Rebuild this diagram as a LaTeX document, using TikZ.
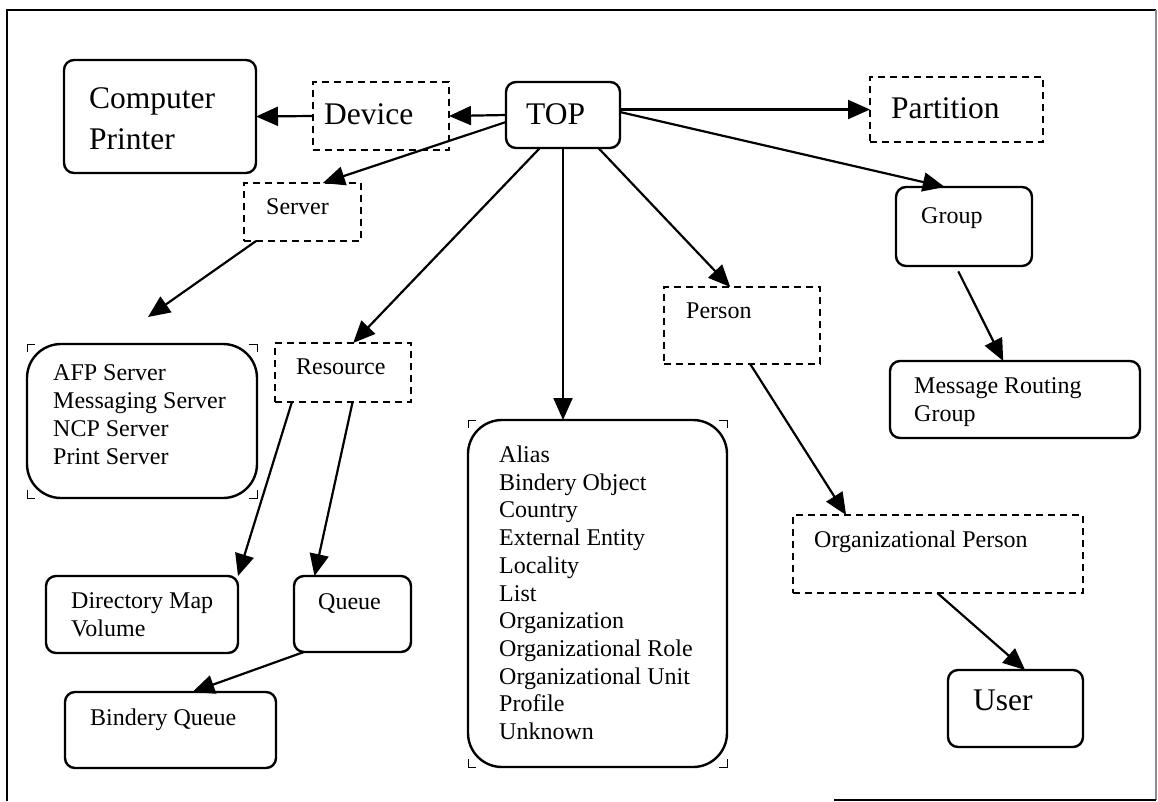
\documentclass[tikz,border=0pt]{standalone}
\usepackage{fontspec}
\setmainfont{Liberation Serif}
\usetikzlibrary{arrows.meta,calc}
\begin{document}
\begin{tikzpicture}[x=1pt,y=-1pt,
  solidbox/.style={draw, line width=2.4pt, rounded corners=10pt, inner sep=0pt, outer sep=0pt},
  bigbox/.style={solidbox, rounded corners=34pt},
  dashbox/.style={draw, line width=2.4pt, dash pattern=on 7pt off 5pt, inner sep=0pt, outer sep=0pt},
  small/.style={anchor=base west, inner sep=0pt, align=left, font=\fontsize{24}{27.7}\selectfont},
  large/.style={anchor=base west, inner sep=0pt, align=left, font=\fontsize{31.5}{41.5}\selectfont},
  link/.style={line width=2.2pt, -{Triangle[length=22pt,width=19pt]}},
  tick/.style={line width=1pt}
]
\useasboundingbox (0,0) rectangle (1158,801);

% outer frame
\draw[line width=2.2pt] (7,801) -- (7,10) -- (1156,10);
\draw[line width=1.2pt, black!45] (1156,10) -- (1156,800);
\draw[line width=1.5pt] (834,800) -- (1156,800);

% boxes
\node[solidbox, minimum width=192pt, minimum height=113pt] (cp) at (160,116.5) {};
\node[dashbox, minimum width=136pt, minimum height=68pt] (dev) at (381,116) {};
\node[solidbox, minimum width=114pt, minimum height=66pt] (top) at (563,115) {};
\node[dashbox, minimum width=173pt, minimum height=65pt] (part) at (956.5,109.5) {};
\node[dashbox, minimum width=117pt, minimum height=58pt] (srv) at (302.5,212) {};
\node[bigbox, minimum width=230pt, minimum height=154pt] (afp) at (142,421) {};
\node[dashbox, minimum width=136pt, minimum height=59pt] (res) at (343,372.5) {};
\node[bigbox, minimum width=259pt, minimum height=347pt] (alias) at (597.5,593.5) {};
\node[dashbox, minimum width=156pt, minimum height=77pt] (per) at (742,325.5) {};
\node[solidbox, minimum width=136pt, minimum height=79pt] (grp) at (964,226.5) {};
\node[solidbox, minimum width=250pt, minimum height=77pt] (mrg) at (1015,399.5) {};
\node[dashbox, minimum width=290pt, minimum height=78pt] (op) at (938,554) {};
\node[solidbox, minimum width=135pt, minimum height=77pt] (user) at (1015.5,708.5) {};
\node[solidbox, minimum width=192pt, minimum height=77pt] (dm) at (142,614.5) {};
\node[solidbox, minimum width=117pt, minimum height=76pt] (q) at (352.5,614) {};
\node[solidbox, minimum width=211pt, minimum height=76pt] (bq) at (170.5,730) {};

% corner marks of the two list boxes
\foreach \n in {afp,alias} {
  \draw[tick] ($(\n.north west)+(0,8)$) -- (\n.north west) -- ($(\n.north west)+(8,0)$);
  \draw[tick] ($(\n.north east)+(0,8)$) -- (\n.north east) -- ($(\n.north east)+(-8,0)$);
  \draw[tick] ($(\n.south west)+(0,-8)$) -- (\n.south west) -- ($(\n.south west)+(8,0)$);
  \draw[tick] ($(\n.south east)+(0,-8)$) -- (\n.south east) -- ($(\n.south east)+(-8,0)$);
}

% labels (multi-line labels are anchored on the baseline of their last line)
\node[large] (cpt) at (89,149.5) {Computer\\Printer};
\node[large] (devt) at (324,124) {Device};
\node[large] (topt) at (526,124) {TOP};
\node[large] (partt) at (891,118) {Partition};
\node[small] (srvt) at (266,214) {Server};
\node[small] (afpt) at (53,464) {AFP Server\\Messaging Server\\NCP Server\\Print Server};
\node[small] (rest) at (296,374) {Resource};
\node[small] (aliast) at (499,739.5) {Alias\\Bindery Object\\Country\\External Entity\\Locality\\List\\Organization\\Organizational Role\\Organizational Unit\\Profile\\Unknown};
\node[small] (pert) at (686,318) {Person};
\node[small] (grpt) at (921,223) {Group};
\node[small] (mrgt) at (914,421) {Message Routing\\Group};
\node[small] (opt) at (814,547) {Organizational Person};
\node[large] (usert) at (973,710) {User};
\node[small] (dmt) at (71,636.5) {Directory Map\\Volume};
\node[small] (qt) at (318,609) {Queue};
\node[small] (bqt) at (90,725) {Bindery Queue};

% connectors
\coordinate (afptip) at (148,317);
\draw[link] (top.west) -- (dev.east);
\draw[link] (dev.west) -- (cp.east);
\draw[link] (part.west -| top.east) -- (part.west);
\draw[link] (top.187) -- (srv.55);
\draw[link] (srv.212) -- (afptip);
\draw[link] (top.235) -- (res.71);
\draw[link] (top.south) -- (top.south |- alias.north);
\draw[link] (top.-43) -- (per.107);
\draw[link] (top.3) -- (grp.116);
\draw[link, shorten <=6pt] (grp.258) -- (mrg.107);
\draw[link] (per.-78) -- (op.157);
\draw[link] (op.-91) -- (user.76);
\draw[link] (res.210) -- (dm.north east);
\draw[link] (res.-72) -- (q.135);
\draw[link] (q.218) -- (bq.60);
\end{tikzpicture}
\end{document}
